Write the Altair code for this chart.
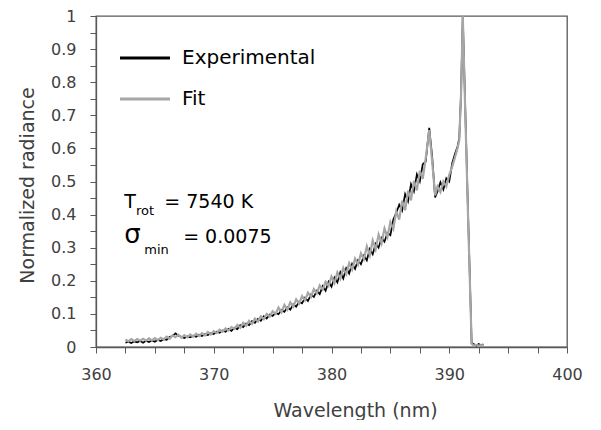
import altair as alt
import pandas as pd

# ---------------- data ----------------
wavelength = [
    362.5, 362.75, 363.0, 363.25, 363.5, 363.75, 364.0, 364.25, 364.5, 364.75,
    365.0, 365.25, 365.5, 365.75, 366.0, 366.25, 366.5, 366.75, 367.0, 367.25,
    367.5, 367.75, 368.0, 368.25, 368.5, 368.75, 369.0, 369.25, 369.5, 369.75,
    370.0, 370.25, 370.5, 370.75, 371.0, 371.25, 371.5, 371.75, 372.0, 372.25,
    372.5, 372.75, 373.0, 373.25, 373.5, 373.75, 374.0, 374.25, 374.5, 374.75,
    375.0, 375.25, 375.5, 375.75, 376.0, 376.25, 376.5, 376.75, 377.0, 377.25,
    377.5, 377.75, 378.0, 378.25, 378.5, 378.75, 379.0, 379.25, 379.5, 379.75,
    380.0, 380.25, 380.5, 380.75, 381.0, 381.25, 381.5, 381.75, 382.0, 382.25,
    382.5, 382.75, 383.0, 383.25, 383.5, 383.75, 384.0, 384.25, 384.5, 384.75,
    385.0, 385.25, 385.5, 385.75, 386.0, 386.25, 386.5, 386.75, 387.0, 387.25,
    387.5, 387.75, 388.0,
    388.3, 388.55, 388.8, 389.0, 389.25, 389.5, 389.75, 390.0, 390.25, 390.5,
    390.7, 390.85, 391.0, 391.15, 391.3, 391.45, 391.6, 391.75, 391.9, 392.1,
    392.3, 392.5, 392.7, 392.9,
]

experimental = [
    0.013, 0.016, 0.012, 0.017, 0.014, 0.018, 0.013, 0.019, 0.015, 0.020,
    0.016, 0.022, 0.018, 0.024, 0.022, 0.030, 0.033, 0.041, 0.034, 0.031,
    0.027, 0.032, 0.029, 0.034, 0.031, 0.037, 0.033, 0.039, 0.036, 0.042,
    0.039, 0.046, 0.043, 0.050, 0.046, 0.055, 0.049, 0.058, 0.054, 0.066,
    0.060, 0.071, 0.066, 0.078, 0.073, 0.085, 0.079, 0.093, 0.086, 0.098,
    0.094, 0.103, 0.099, 0.112, 0.106, 0.120, 0.113, 0.129, 0.122, 0.137,
    0.132, 0.149, 0.139, 0.158, 0.151, 0.170, 0.160, 0.184, 0.170, 0.197,
    0.182, 0.210, 0.195, 0.226, 0.207, 0.238, 0.222, 0.251, 0.236, 0.262,
    0.250, 0.276, 0.262, 0.296, 0.280, 0.312, 0.300, 0.330, 0.318, 0.345,
    0.338, 0.385, 0.405, 0.430, 0.412, 0.462, 0.440, 0.492, 0.470, 0.522,
    0.500, 0.552, 0.560,
    0.662, 0.575, 0.452, 0.470, 0.498, 0.476, 0.510, 0.500, 0.555, 0.585,
    0.605, 0.630, 0.765, 1.000, 0.800, 0.600, 0.400, 0.210, 0.012, 0.008,
    0.004, 0.009, 0.005, 0.008,
]

fit = [
    0.023, 0.017, 0.024, 0.018, 0.024, 0.019, 0.025, 0.019, 0.026, 0.020,
    0.027, 0.021, 0.028, 0.023, 0.031, 0.025, 0.035, 0.030, 0.037, 0.028,
    0.036, 0.029, 0.038, 0.031, 0.040, 0.033, 0.042, 0.035, 0.045, 0.038,
    0.048, 0.042, 0.052, 0.046, 0.056, 0.050, 0.060, 0.055, 0.067, 0.058,
    0.073, 0.064, 0.079, 0.070, 0.086, 0.077, 0.093, 0.084, 0.100, 0.092,
    0.108, 0.100, 0.119, 0.105, 0.127, 0.113, 0.135, 0.122, 0.144, 0.131,
    0.154, 0.141, 0.164, 0.151, 0.175, 0.162, 0.186, 0.173, 0.197, 0.185,
    0.213, 0.193, 0.225, 0.206, 0.239, 0.220, 0.253, 0.234, 0.267, 0.249,
    0.283, 0.265, 0.304, 0.277, 0.322, 0.295, 0.340, 0.313, 0.358, 0.332,
    0.378, 0.357, 0.410, 0.385, 0.442, 0.413, 0.472, 0.443, 0.502, 0.473,
    0.532, 0.508, 0.570,
    0.655, 0.560, 0.458, 0.485, 0.468, 0.500, 0.485, 0.520, 0.545, 0.575,
    0.600, 0.625, 0.760, 1.000, 0.790, 0.590, 0.390, 0.200, 0.010, 0.004,
    0.006, 0.004, 0.006, 0.005,
]

series_names = ["Experimental", "Fit"]
series_colors = ["#000000", "#a6a6a6"]

x_ticks = [360, 362.5, 365, 367.5, 370, 372.5, 375, 377.5, 380, 382.5,
           385, 387.5, 390, 392.5, 395, 397.5, 400]
y_ticks = [0, 0.05, 0.1, 0.15, 0.2, 0.25, 0.3, 0.35, 0.4, 0.45, 0.5,
           0.55, 0.6, 0.65, 0.7, 0.75, 0.8, 0.85, 0.9, 0.95, 1]

ann_text = ["T", "rot", "= 7540 K", "\u03c3", "min", "= 0.0075"]

# ---------------- tables ----------------
df_exp = pd.DataFrame({"wl": wavelength, "val": experimental, "series": series_names[0]})
df_fit = pd.DataFrame({"wl": wavelength, "val": fit, "series": series_names[1]})

FONT = "DejaVu Sans"
AX = "#595959"
TXT = "#404040"

x_enc = alt.X(
    "wl:Q",
    scale=alt.Scale(domain=[360, 400], nice=False, zero=False),
    axis=alt.Axis(
        values=x_ticks, tickCount=100,
        labelExpr="datum.value % 10 === 0 ? format(datum.value, 'd') : ''",
        labelOverlap=False, labelFlush=False,
        title="Wavelength (nm)",
        titleX=259, titleY=69, titleAlign="center", titleBaseline="alphabetic",
        labelPadding=13,
    ),
)
y_enc = alt.Y(
    "val:Q",
    scale=alt.Scale(domain=[0, 1], nice=False),
    axis=alt.Axis(
        values=y_ticks, tickCount=100,
        labelExpr="round(datum.value * 100) % 10 === 0 ? format(datum.value, '~g') : ''",
        labelOverlap=False, labelFlush=False,
        title="Normalized radiance",
        titleAngle=270, titleX=-63, titleY=169, titleAlign="center",
        titleBaseline="alphabetic",
        labelPadding=14,
    ),
)
color_enc = alt.Color(
    "series:N",
    scale=alt.Scale(domain=series_names, range=series_colors),
    legend=alt.Legend(
        title=None, orient="none", legendX=35, legendY=28,
        symbolType="M-2,0H2", symbolSize=625, symbolStrokeWidth=3,
        labelFont=FONT, labelFontSize=20, labelColor="#000000",
        labelOffset=23, rowPadding=17, padding=0,
    ),
)

exp_line = alt.Chart(df_exp).mark_line(strokeWidth=1.7).encode(
    x=x_enc, y=y_enc, color=color_enc, order="wl:Q")
fit_line = alt.Chart(df_fit).mark_line(strokeWidth=2.2).encode(
    x=x_enc, y=y_enc, color=color_enc, order="wl:Q")


def ann(i, wl, v, size):
    return alt.Chart(pd.DataFrame({"t": [ann_text[i]]})).mark_text(
        align="left", baseline="alphabetic", font=FONT, fontSize=size, color="#000000"
    ).encode(x=alt.datum(wl), y=alt.datum(v), text="t:N")


annotations = [
    ann(0, 362.40, 0.420, 19),
    ann(1, 363.40, 0.399, 13),
    ann(2, 365.80, 0.420, 19),
    ann(3, 362.40, 0.314, 26),
    ann(4, 364.10, 0.281, 13),
    ann(5, 367.40, 0.314, 19),
]

chart = alt.layer(exp_line, fit_line, *annotations).properties(
    width=471, height=331,
    autosize=alt.AutoSizeParams(type="none"),
    padding={"left": 88, "top": 8, "right": 25, "bottom": 73},
).configure_view(
    stroke=AX, strokeWidth=1.3
).configure_axis(
    grid=False, domainColor=AX, domainWidth=1.3, tickColor=AX, tickSize=6,
    labelFont=FONT, labelFontSize=16, labelColor=TXT,
    labelFlush=False, labelOverlap=False,
    titleFont=FONT, titleFontSize=19, titleFontWeight="normal", titleColor=TXT,
)

chart.save("out.html", embed_options={"renderer": "svg", "actions": False})
